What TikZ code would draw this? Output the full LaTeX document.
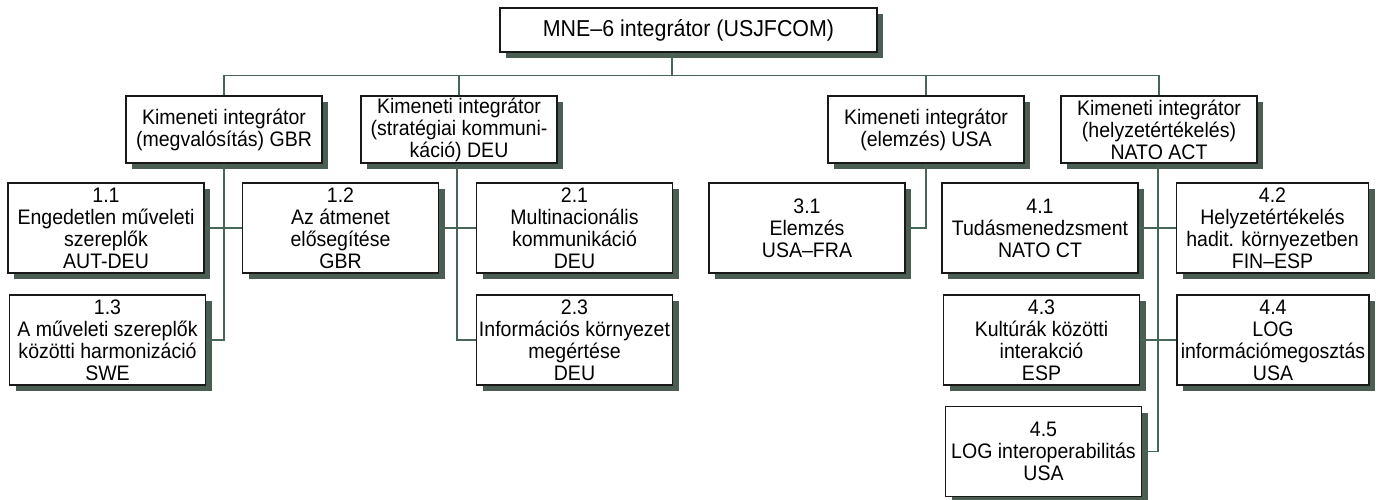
\documentclass[tikz,border=0pt]{standalone}
\usepackage{fontspec}
\setmainfont[FakeStretch=0.93]{Liberation Sans}
\usetikzlibrary{shadows}
\definecolor{shadowcol}{RGB}{74,94,84}
\definecolor{linecol}{RGB}{72,102,88}
\tikzset{
  boxbase/.style={draw=black!90, fill=white, line width=1.1pt, inner sep=0pt, align=center,
    drop shadow={shadow xshift=6pt, shadow yshift=-6pt, fill=shadowcol, opacity=1}},
  titlebox/.style={boxbase, minimum width=377pt, minimum height=44pt,
    font=\fontsize{23}{25}\selectfont},
  intbox/.style={boxbase, minimum width=196pt, minimum height=67pt,
    font=\fontsize{21}{22}\selectfont},
  leafbox/.style={boxbase, minimum width=196pt, minimum height=90pt,
    font=\fontsize{21}{22}\selectfont},
  narrowleaf/.style={leafbox, minimum width=192pt},
  conn/.style={draw=linecol, line width=1.5pt}
}
\begin{document}
\begin{tikzpicture}[x=1pt,y=-1pt]
\useasboundingbox (0,0) rectangle (1380,499);
% top
\node[titlebox] (top) at (688.5,30) {MNE–6 integrátor (USJFCOM)};
% level 1
\node[intbox] (k1) at (224,129.5) {Kimeneti integrátor\\(megvalósítás) GBR};
\node[intbox] (k2) at (459,129.5) {Kimeneti integrátor\\(stratégiai kommuni-\\káció) DEU};
\node[intbox] (k3) at (926,129.5) {Kimeneti integrátor\\(elemzés) USA};
\node[intbox] (k4) at (1159,129.5) {Kimeneti integrátor\\(helyzetértékelés)\\NATO ACT};
% level 2
\node[leafbox] (b11) at (106,228) {1.1\\Engedetlen műveleti\\szereplők\\AUT-DEU};
\node[leafbox] (b12) at (340.5,228) {1.2\\Az átmenet\\elősegítése\\GBR};
\node[leafbox] (b13) at (107.5,340) {1.3\\A műveleti szereplők\\közötti harmonizáció\\SWE};
\node[leafbox] (b21) at (574.5,228) {2.1\\Multinacionális\\kommunikáció\\DEU};
\node[leafbox] (b23) at (574.5,340) {2.3\\Információs környezet\\megértése\\DEU};
\node[leafbox] (b31) at (807,228) {3.1\\Elemzés\\USA–FRA};
\node[leafbox] (b41) at (1040,228) {4.1\\Tudásmenedzsment\\NATO CT};
\node[narrowleaf] (b42) at (1272.5,228) {4.2\\Helyzetértékelés\\hadit. környezetben\\FIN–ESP};
\node[leafbox] (b43) at (1041.5,340) {4.3\\Kultúrák közötti\\interakció\\ESP};
\node[narrowleaf] (b44) at (1273,340) {4.4\\LOG\\információmegosztás\\USA};
\node[leafbox] (b45) at (1043.5,451.5) {4.5\\LOG interoperabilitás\\USA};
% connectors top
\draw[conn] ([xshift=-16.5pt]top.south) -- ([xshift=-16.5pt]top.south |- 0,76);
\draw[conn] (k1.north) -- ++(0,-20) -| (k4.north);
\draw[conn] (k2.north) -- ++(0,-20);
\draw[conn] (k3.north) -- ++(0,-20);
% branch 1
\draw[conn] (k1.south) |- (b13.east);
\draw[conn] (b11.east) -- (b12.west);
% branch 2
\draw[conn] ([xshift=-2pt]k2.south) |- (b23.west);
\draw[conn] (b12.east) -- (b21.west);
% branch 3
\draw[conn] (k3.south) |- (b31.east);
% branch 4
\draw[conn] ([xshift=-1pt]k4.south) |- (b45.east);
\draw[conn] (b41.east) -- (b42.west);
\draw[conn] (b43.east) -- (b44.west);
\end{tikzpicture}
\end{document}
